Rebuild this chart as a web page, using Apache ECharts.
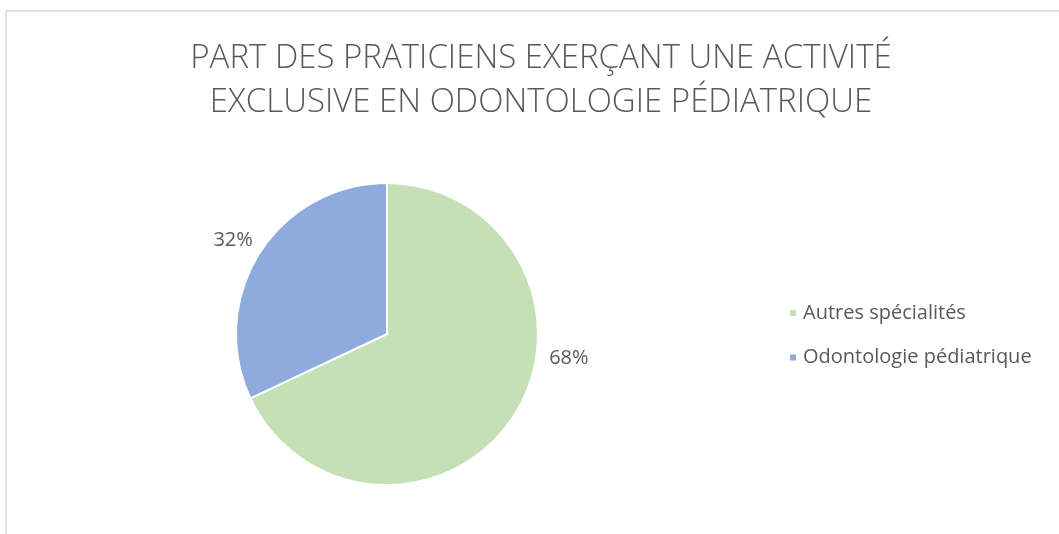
<!DOCTYPE html>
<html>
<head>
<meta charset="utf-8">
<script src="https://cdn.jsdelivr.net/npm/echarts@6/dist/echarts.min.js"></script>
<style>
  html, body { margin: 0; padding: 0; background: #fff; }
  #chart { width: 1059px; height: 534px; }
</style>
</head>
<body>
<div id="chart"></div>
<script>
const titleText = 'PART DES PRATICIENS EXERÇANT UNE ACTIVITÉ\nEXCLUSIVE EN ODONTOLOGIE PÉDIATRIQUE';
const categories = ['Autres spécialités', 'Odontologie pédiatrique'];
const values = [68, 32];
const colors = ['#c5e0b4', '#8faadc'];

const font = '"Open Sans", "Noto Sans", sans-serif';
const textColor = '#595959';

const chart = echarts.init(document.getElementById('chart'));

const option = {
  backgroundColor: '#fff',
  animation: false,
  title: {
    text: titleText,
    left: 536,
    textAlign: 'center',
    top: 32,
    textStyle: {
      fontFamily: font,
      fontWeight: 300,
      fontSize: 33,
      lineHeight: 44,
      color: textColor
    }
  },
  // cadre de la zone du graphique
  graphic: [{
    type: 'rect',
    shape: { x: 6, y: 11, width: 1080, height: 600 },
    style: { fill: 'none', stroke: '#d9d9d9', lineWidth: 1.5 },
    silent: true
  }],
  legend: {
    orient: 'vertical',
    left: 783,
    top: 298,
    icon: 'rect',
    itemWidth: 8,
    itemHeight: 8,
    itemGap: 24.5,
    data: categories,
    textStyle: {
      fontFamily: font,
      fontSize: 20,
      color: textColor,
      padding: [0, 0, 0, 1]
    }
  },
  series: [{
    type: 'pie',
    center: [387, 334],
    radius: 151,
    startAngle: 90,
    clockwise: true,
    itemStyle: { borderColor: '#fff', borderWidth: 2 },
    label: {
      show: true,
      position: 'outside',
      formatter: '{d}%',
      fontFamily: font,
      fontSize: 20,
      color: textColor
    },
    labelLine: { show: false, length: 15, length2: 0 },
    labelLayout: (p) => {
      if (p.dataIndex === 0) return { dx: 17, dy: -65 };
      return { dx: 11, dy: -5 };
    },
    emphasis: { disabled: true },
    data: categories.map((name, i) => ({
      name,
      value: values[i],
      itemStyle: { color: colors[i] }
    }))
  }]
};

chart.setOption(option);
</script>
</body>
</html>
